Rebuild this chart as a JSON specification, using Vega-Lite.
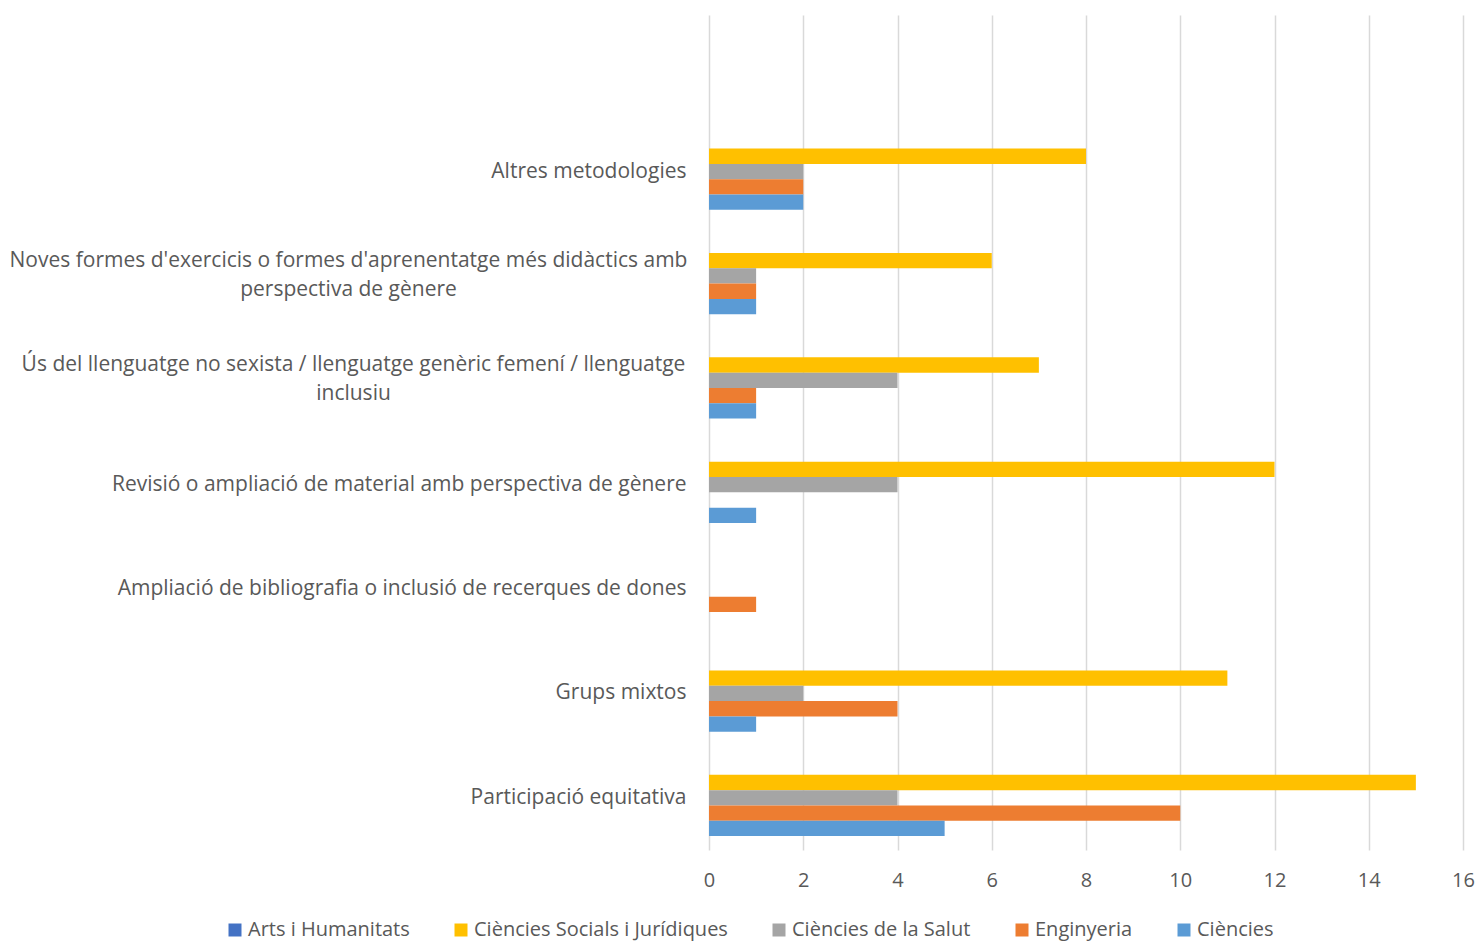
{
  "$schema": "https://vega.github.io/schema/vega-lite/v6.json",
  "width": 754,
  "height": 835,
  "autosize": {"type": "none"},
  "padding": {"left": 709, "top": 15, "right": 16, "bottom": 94},
  "background": "white",
  "config": {
    "view": {"stroke": null},
    "font": "Open Sans",
    "axis": {"labelFont": "Open Sans", "labelColor": "#595959", "labelFontSize": 20},
    "legend": {"labelFont": "Open Sans", "labelColor": "#595959", "labelFontSize": 20}
  },
  "data": {
    "values": [
      {"categoria": "Altres metodologies", "area": "Arts i Humanitats", "n": 0},
      {"categoria": "Altres metodologies", "area": "Ciències Socials i Jurídiques", "n": 8},
      {"categoria": "Altres metodologies", "area": "Ciències de la Salut", "n": 2},
      {"categoria": "Altres metodologies", "area": "Enginyeria", "n": 2},
      {"categoria": "Altres metodologies", "area": "Ciències", "n": 2},
      {"categoria": "Noves formes d'exercicis o formes d'aprenentatge més didàctics amb perspectiva de gènere", "area": "Arts i Humanitats", "n": 0},
      {"categoria": "Noves formes d'exercicis o formes d'aprenentatge més didàctics amb perspectiva de gènere", "area": "Ciències Socials i Jurídiques", "n": 6},
      {"categoria": "Noves formes d'exercicis o formes d'aprenentatge més didàctics amb perspectiva de gènere", "area": "Ciències de la Salut", "n": 1},
      {"categoria": "Noves formes d'exercicis o formes d'aprenentatge més didàctics amb perspectiva de gènere", "area": "Enginyeria", "n": 1},
      {"categoria": "Noves formes d'exercicis o formes d'aprenentatge més didàctics amb perspectiva de gènere", "area": "Ciències", "n": 1},
      {"categoria": "Ús del llenguatge no sexista / llenguatge genèric femení / llenguatge inclusiu", "area": "Arts i Humanitats", "n": 0},
      {"categoria": "Ús del llenguatge no sexista / llenguatge genèric femení / llenguatge inclusiu", "area": "Ciències Socials i Jurídiques", "n": 7},
      {"categoria": "Ús del llenguatge no sexista / llenguatge genèric femení / llenguatge inclusiu", "area": "Ciències de la Salut", "n": 4},
      {"categoria": "Ús del llenguatge no sexista / llenguatge genèric femení / llenguatge inclusiu", "area": "Enginyeria", "n": 1},
      {"categoria": "Ús del llenguatge no sexista / llenguatge genèric femení / llenguatge inclusiu", "area": "Ciències", "n": 1},
      {"categoria": "Revisió o ampliació de material amb perspectiva de gènere", "area": "Arts i Humanitats", "n": 0},
      {"categoria": "Revisió o ampliació de material amb perspectiva de gènere", "area": "Ciències Socials i Jurídiques", "n": 12},
      {"categoria": "Revisió o ampliació de material amb perspectiva de gènere", "area": "Ciències de la Salut", "n": 4},
      {"categoria": "Revisió o ampliació de material amb perspectiva de gènere", "area": "Enginyeria", "n": 0},
      {"categoria": "Revisió o ampliació de material amb perspectiva de gènere", "area": "Ciències", "n": 1},
      {"categoria": "Ampliació de bibliografia o inclusió de recerques de dones", "area": "Arts i Humanitats", "n": 0},
      {"categoria": "Ampliació de bibliografia o inclusió de recerques de dones", "area": "Ciències Socials i Jurídiques", "n": 0},
      {"categoria": "Ampliació de bibliografia o inclusió de recerques de dones", "area": "Ciències de la Salut", "n": 0},
      {"categoria": "Ampliació de bibliografia o inclusió de recerques de dones", "area": "Enginyeria", "n": 1},
      {"categoria": "Ampliació de bibliografia o inclusió de recerques de dones", "area": "Ciències", "n": 0},
      {"categoria": "Grups mixtos", "area": "Arts i Humanitats", "n": 0},
      {"categoria": "Grups mixtos", "area": "Ciències Socials i Jurídiques", "n": 11},
      {"categoria": "Grups mixtos", "area": "Ciències de la Salut", "n": 2},
      {"categoria": "Grups mixtos", "area": "Enginyeria", "n": 4},
      {"categoria": "Grups mixtos", "area": "Ciències", "n": 1},
      {"categoria": "Participació equitativa", "area": "Arts i Humanitats", "n": 0},
      {"categoria": "Participació equitativa", "area": "Ciències Socials i Jurídiques", "n": 15},
      {"categoria": "Participació equitativa", "area": "Ciències de la Salut", "n": 4},
      {"categoria": "Participació equitativa", "area": "Enginyeria", "n": 10},
      {"categoria": "Participació equitativa", "area": "Ciències", "n": 5}
    ]
  },
  "mark": {"type": "bar", "orient": "horizontal"},
  "encoding": {
    "y": {
      "field": "categoria",
      "type": "nominal",
      "title": null,
      "scale": {
        "domain": ["", "Altres metodologies", "Noves formes d'exercicis o formes d'aprenentatge més didàctics amb perspectiva de gènere", "Ús del llenguatge no sexista / llenguatge genèric femení / llenguatge inclusiu", "Revisió o ampliació de material amb perspectiva de gènere", "Ampliació de bibliografia o inclusió de recerques de dones", "Grups mixtos", "Participació equitativa"],
        "paddingInner": 0.267,
        "paddingOuter": 0.1335
      },
      "axis": {
        "domain": false,
        "ticks": false,
        "grid": false,
        "labelLimit": 0,
        "labelFontSize": 21,
        "labelLineHeight": 29,
        "labelBaseline": "middle",
        "labelExpr": "datum.value == \"Noves formes d'exercicis o formes d'aprenentatge més didàctics amb perspectiva de gènere\" ? [\"Noves formes d'exercicis o formes d'aprenentatge més didàctics amb\", 'perspectiva de gènere'] : datum.value == 'Ús del llenguatge no sexista / llenguatge genèric femení / llenguatge inclusiu' ? ['Ús del llenguatge no sexista / llenguatge genèric femení / llenguatge', 'inclusiu'] : datum.label",
        "labelAlign": {"condition": {"test": "datum.value == \"Noves formes d'exercicis o formes d'aprenentatge més didàctics amb perspectiva de gènere\" || datum.value == 'Ús del llenguatge no sexista / llenguatge genèric femení / llenguatge inclusiu'", "value": "center"}, "value": "right"},
        "labelOffset": {"condition": {"test": "datum.value == \"Noves formes d'exercicis o formes d'aprenentatge més didàctics amb perspectiva de gènere\" || datum.value == 'Ús del llenguatge no sexista / llenguatge genèric femení / llenguatge inclusiu'", "value": -15}, "value": 0},
        "labelPadding": {"condition": [{"test": "datum.value == \"Noves formes d'exercicis o formes d'aprenentatge més didàctics amb perspectiva de gènere\"", "value": 361}, {"test": "datum.value == 'Ús del llenguatge no sexista / llenguatge genèric femení / llenguatge inclusiu'", "value": 356}], "value": 23}
      }
    },
    "yOffset": {
      "field": "area",
      "type": "nominal",
      "scale": {"domain": ["Arts i Humanitats", "Ciències Socials i Jurídiques", "Ciències de la Salut", "Enginyeria", "Ciències"], "paddingInner": 0, "paddingOuter": 0}
    },
    "x": {
      "field": "n",
      "type": "quantitative",
      "title": null,
      "scale": {"domain": [0, 16], "nice": false},
      "axis": {
        "values": [0, 2, 4, 6, 8, 10, 12, 14, 16],
        "domain": false,
        "ticks": false,
        "grid": true,
        "gridColor": "#D9D9D9",
        "gridWidth": 1.5,
        "labelPadding": 20,
        "labelFlush": false
      }
    },
    "color": {
      "field": "area",
      "type": "nominal",
      "title": null,
      "scale": {
        "domain": ["Arts i Humanitats", "Ciències Socials i Jurídiques", "Ciències de la Salut", "Enginyeria", "Ciències"],
        "range": ["#4472C4", "#FFC000", "#A5A5A5", "#ED7D31", "#5B9BD5"]
      },
      "legend": {
        "orient": "none",
        "direction": "horizontal",
        "legendX": -484,
        "legendY": 905,
        "symbolType": "square",
        "symbolSize": 169,
        "symbolStrokeWidth": 0,
        "labelOffset": 3,
        "columnPadding": 41,
        "labelLimit": 0
      }
    }
  }
}
